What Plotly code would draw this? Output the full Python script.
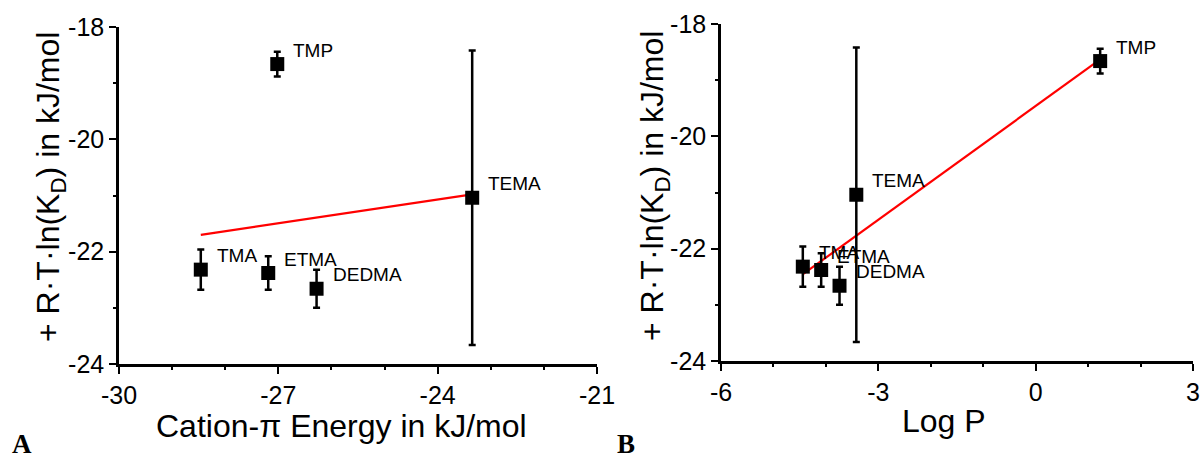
import plotly.graph_objects as go

# Binding free energies of the quaternary ammonium ligands
compounds = ["TMA", "ETMA", "DEDMA", "TEMA", "TMP"]
cation_pi_energy = [-28.46, -27.19, -26.28, -23.35, -27.02]   # kJ/mol
log_p = [-4.44, -4.09, -3.74, -3.42, 1.23]
rt_ln_kd = [-22.32, -22.38, -22.66, -21.04, -18.66]           # kJ/mol
rt_ln_kd_err = [0.36, 0.30, 0.34, 2.62, 0.22]

# Linear fits drawn over each panel
fit_a_x = [-28.46, -23.35]
fit_a_y = [-21.70, -20.98]
fit_b_x = [-4.43, 1.23]
fit_b_y = [-22.45, -18.63]

# Tick labels
x_a_ticks = [-30, -27, -24, -21]
x_b_ticks = [-6, -3, 0, 3]
y_ticks = [-24, -22, -20, -18]

W, H = 1203, 461
FONT = "Liberation Sans, Arial, sans-serif"
SERIF = "Liberation Serif, Times New Roman, serif"


def px_x(p):
    return p / W


def px_y(p):
    return 1 - p / H


fig = go.Figure()

for xvals, fx, fy, xa, ya in [
    (cation_pi_energy, fit_a_x, fit_a_y, "x", "y"),
    (log_p, fit_b_x, fit_b_y, "x2", "y2"),
]:
    fig.add_trace(go.Scatter(
        x=fx, y=fy, mode="lines", xaxis=xa, yaxis=ya,
        line=dict(color="#ff0000", width=2.2), showlegend=False,
    ))
    fig.add_trace(go.Scatter(
        x=xvals, y=rt_ln_kd, mode="markers", xaxis=xa, yaxis=ya,
        marker=dict(symbol="square", size=14, color="black"),
        error_y=dict(type="data", array=rt_ln_kd_err, visible=True,
                     color="black", thickness=2.5, width=3.5),
        showlegend=False, cliponaxis=False,
    ))
    for name, xv, yv in zip(compounds, xvals, rt_ln_kd):
        fig.add_annotation(
            x=xv, y=yv, xref=xa, yref=ya, text=name, showarrow=False,
            xanchor="left", yanchor="middle", xshift=14, yshift=14,
            font=dict(family=FONT, size=19, color="black"),
        )

axis_common = dict(
    showline=True, linecolor="black", linewidth=2.5, automargin=False,
    ticks="outside", ticklen=7, tickwidth=2, tickcolor="black",
    showgrid=False, zeroline=False,
    tickfont=dict(family=FONT, size=25, color="black"),
    minor=dict(dtick=1, ticks="outside", ticklen=3, tickwidth=2, tickcolor="black"),
)

fig.update_layout(
    width=W, height=H, autosize=False,
    margin=dict(l=0, r=0, t=0, b=0, autoexpand=False),
    paper_bgcolor="white", plot_bgcolor="white",
    xaxis=dict(domain=[px_x(119), px_x(597)], range=[-30, -21], anchor="y",
               tickvals=x_a_ticks, ticktext=[str(v) for v in x_a_ticks],
               **axis_common),
    yaxis=dict(domain=[px_y(364), px_y(27)], range=[-24, -18], anchor="x",
               tickvals=y_ticks, ticktext=[str(v) for v in y_ticks],
               **axis_common),
    xaxis2=dict(domain=[px_x(721), px_x(1193)], range=[-6, 3], anchor="y2",
                tickvals=x_b_ticks, ticktext=[str(v) for v in x_b_ticks],
                **axis_common),
    yaxis2=dict(domain=[px_y(361), px_y(24)], range=[-24, -18], anchor="x2",
                tickvals=y_ticks, ticktext=[str(v) for v in y_ticks],
                **axis_common),
)

y_title = "+ R\u00b7T\u00b7ln(K<sub>D</sub>) in kJ/mol"
titles = [
    (50, 187, y_title, -90),
    (655, 186, y_title, -90),
    (341, 426, "Cation-\u03c0 Energy in kJ/mol", 0),
    (944, 421, "Log P", 0),
]
for x0, y0, txt, ang in titles:
    fig.add_annotation(
        x=px_x(x0), y=px_y(y0), xref="paper", yref="paper", text=txt,
        showarrow=False, textangle=ang, xanchor="center", yanchor="middle",
        font=dict(family=FONT, size=32, color="black"),
    )

for x0, txt in [(22, "A"), (626, "B")]:
    fig.add_annotation(
        x=px_x(x0), y=0, xref="paper", yref="paper", text=f"<b>{txt}</b>",
        showarrow=False, xanchor="center", yanchor="bottom",
        font=dict(family=SERIF, size=27, color="black"),
    )

fig.write_html("out.html")
